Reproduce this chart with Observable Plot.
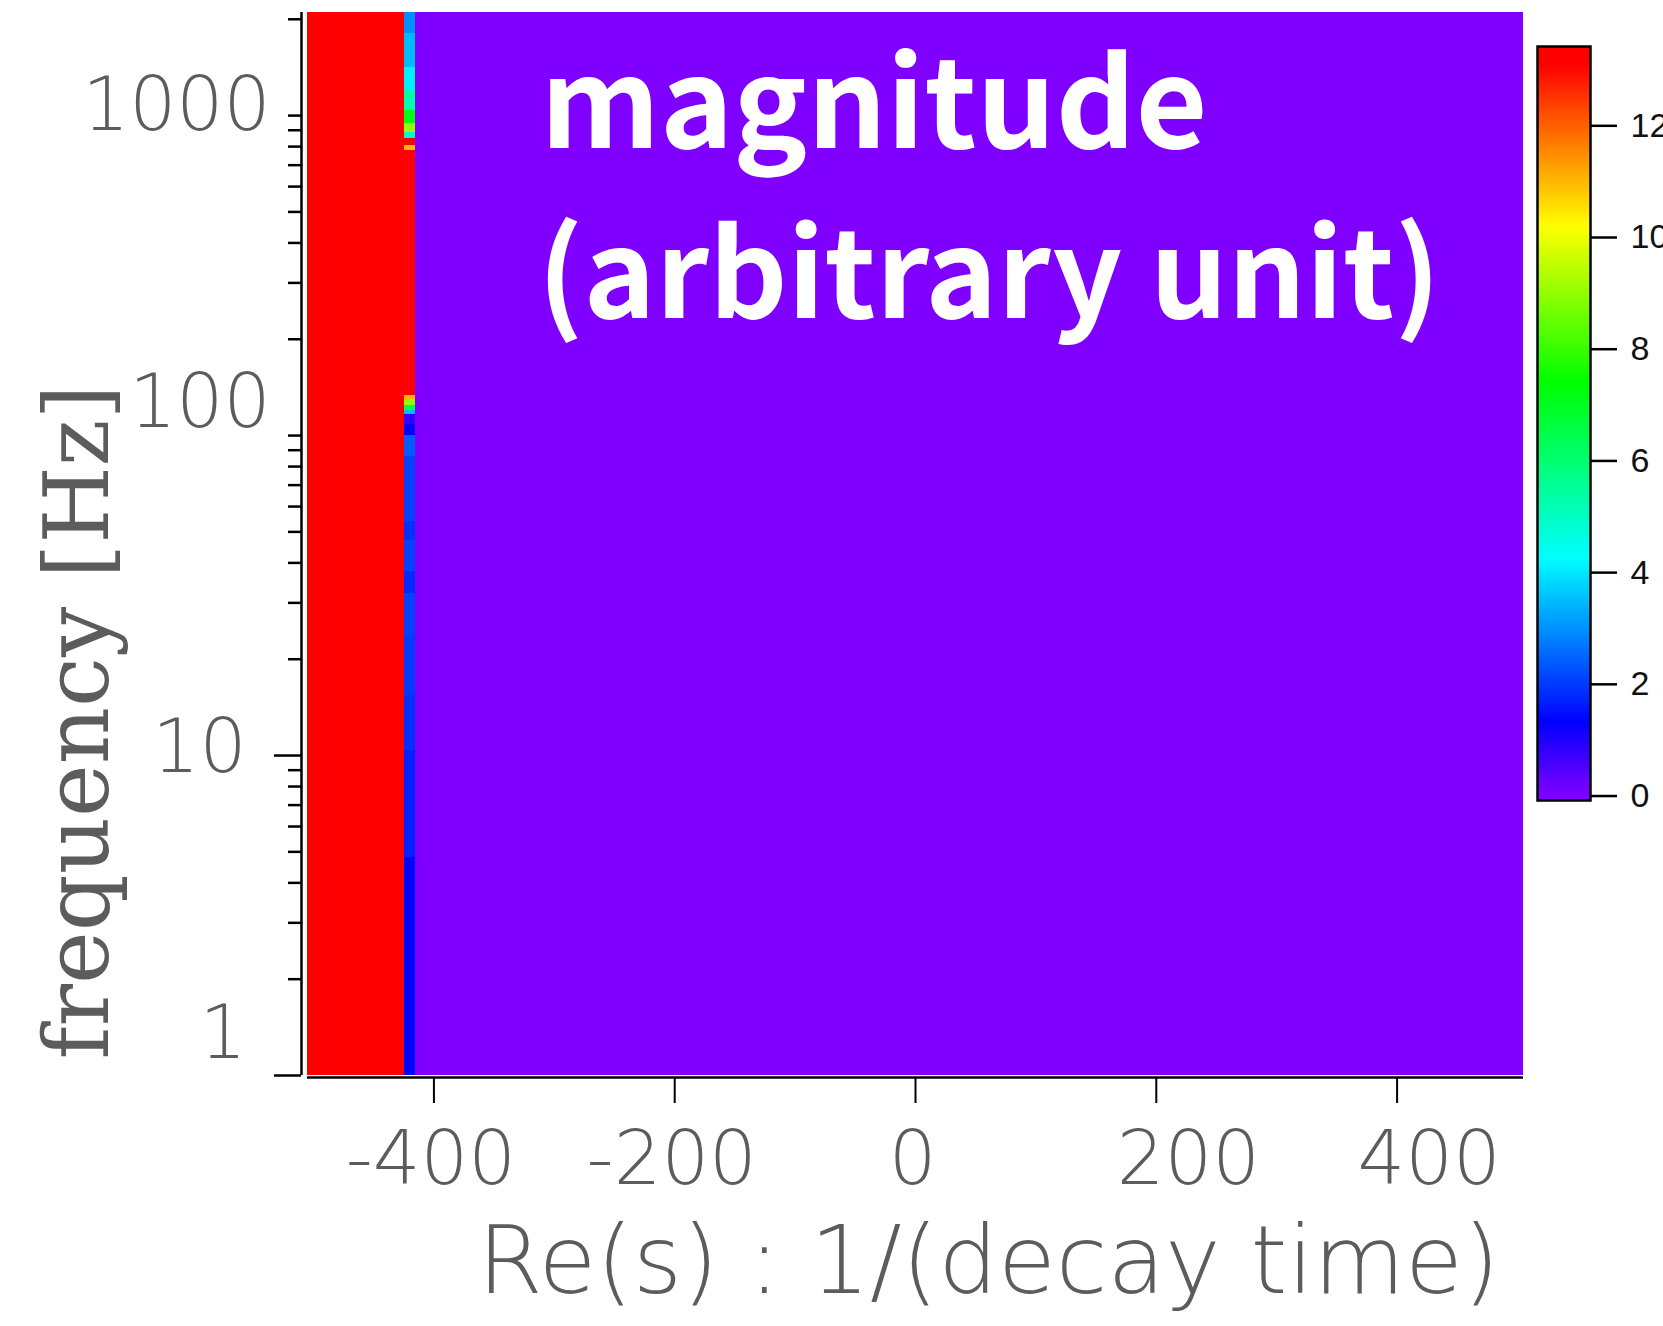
<!DOCTYPE html>
<html><head><meta charset="utf-8">
<script src="https://cdn.jsdelivr.net/npm/d3@7"></script>
<script src="https://cdn.jsdelivr.net/npm/@observablehq/plot@0.6"></script>
<style>
html,body{margin:0;padding:0;background:#fff;}
#wrap{position:relative;width:1663px;height:1326px;overflow:hidden;background:#fff;}
#main{position:absolute;left:0;top:0;}
#bar{position:absolute;left:1500px;top:0;}
</style></head><body><div id="wrap"><div id="main"></div><div id="bar"></div></div>
<script>
// ---------- data ----------
const reDomain = [-505, 505];
const freqDomain = [1, 2100];
// regions along Re(s): saturated block, narrow stripe, empty background
const regionNames = ["saturated", "stripe", "background"];
const regionRe0 = [-505, -424.5, -415.4];
const regionRe1 = [-424.5, -415.4, 505];
const regionValue = [13.4, null, 0];
// stripe profile: frequency band edges (Hz, descending) and magnitude in each band
const stripeFreqEdges = [2100, 1800, 1410, 1200, 1036, 944, 885, 850, 806, 778, 133, 129, 124, 120, 116, 108, 100, 86, 54, 47, 37.5, 32, 23.7, 15.4, 10.4, 4.8, 1];
const stripeValues = [3.0, 3.5, 4.1, 5.3, 7.2, 9.0, 5.0, 13.4, 11.0, 13.4, 11.0, 9.0, 6.5, 3.5, 0.8, 1.3, 2.4, 2.1, 1.9, 2.1, 1.8, 2.1, 2.0, 1.9, 1.7, 1.35];
const xTicks = [-400, -200, 0, 200, 400];
const yLabelTicks = [1, 10, 100, 1000];
const yMinorTicks = [2,3,4,5,6,7,8,9,20,30,40,50,60,70,80,90,200,300,400,500,600,700,800,900,2000];
const colorbarTicks = [0, 2, 4, 6, 8, 10, 12];
const colorbarDomain = [-0.08, 13.42];
const overlayLines = ["magnitude", "(arbitrary unit)"];
const xTitle = "Re(s) : 1/(decay time)";
const yTitle = "frequency [Hz]";

// ---------- build cells ----------
const cells = [];
regionNames.forEach((name, i) => {
  if (name === "stripe") {
    stripeValues.forEach((v, j) => cells.push({x1: regionRe0[i], x2: regionRe1[i], y1: stripeFreqEdges[j + 1], y2: stripeFreqEdges[j], v}));
  } else {
    cells.push({x1: regionRe0[i], x2: regionRe1[i], y1: freqDomain[0], y2: freqDomain[1], v: regionValue[i]});
  }
});

const colorScale = {
  type: "linear",
  domain: [0, 1.33, 4.27, 7.4, 10.2, 13.1],
  range: ["#8000ff", "#0000ff", "#00ffff", "#00ff00", "#ffff00", "#ff0000"],
  interpolate: "rgb",
  clamp: true
};

const gray = "#5c5c5c";
const tickFont = "DejaVu Sans";
// per-label offsets (px) of y tick labels, relative to frame left / tick
const yLabelPos = new Map([[1000, [-37, -9]], [100, [-37, -32]], [10, [-61, -7]], [1, [-61, -41]]]);

const main = Plot.plot({
  width: 1540, height: 1326,
  marginLeft: 307, marginRight: 17, marginTop: 12, marginBottom: 251,
  x: {domain: reDomain, axis: null},
  y: {type: "log", domain: freqDomain, axis: null},
  color: colorScale,
  style: {background: "white", overflow: "visible"},
  marks: [
    Plot.rect(cells, {x1: "x1", x2: "x2", y1: "y1", y2: "y2", fill: "v", shapeRendering: "crispEdges"}),
    // axis lines
    Plot.ruleX([reDomain[0]], {dx: -6, stroke: "black", strokeWidth: 2.5}),
    Plot.ruleY([freqDomain[0]], {dy: 2, stroke: "black", strokeWidth: 2.5}),
    // y ticks
    Plot.axisY(yMinorTicks, {anchor: "left", tickSize: 13, dx: -6, fill: "none", stroke: "black", strokeWidth: 2.5}),
    Plot.axisY([1000, 100], {anchor: "left", tickSize: 13, dx: -6, fill: "none", stroke: "black", strokeWidth: 2.5}),
    Plot.axisY([10, 1], {anchor: "left", tickSize: 27, dx: -6, fill: "none", stroke: "black", strokeWidth: 2.5}),
    // y tick labels
    ...yLabelTicks.map(t => Plot.text([t], {
      y: d => d, frameAnchor: "left", text: d => String(d), textAnchor: "end", lineAnchor: "middle",
      dx: yLabelPos.get(t)[0], dy: yLabelPos.get(t)[1],
      fontSize: 74, fontFamily: tickFont, fontWeight: 300, fill: gray
    })),
    // x ticks
    Plot.axisX(xTicks, {anchor: "bottom", tickSize: 26, dy: 2, fill: "none", stroke: "black", strokeWidth: 2}),
    Plot.text(xTicks.filter(d => d <= 0), {
      x: d => d, frameAnchor: "bottom", text: d => String(d), textAnchor: "middle", lineAnchor: "bottom",
      dy: 108, dx: -3, fontSize: 75, fontFamily: tickFont, fontWeight: 300, fill: gray
    }),
    Plot.text(xTicks.filter(d => d > 0), {
      x: d => d, frameAnchor: "bottom", text: d => String(d), textAnchor: "middle", lineAnchor: "bottom",
      dy: 108, dx: 32, fontSize: 75, fontFamily: tickFont, fontWeight: 300, fill: gray
    }),
    // axis titles
    Plot.text([xTitle], {frameAnchor: "bottom", text: d => d, lineAnchor: "bottom", textAnchor: "middle", dy: 217, dx: 73,
      fontSize: 94, fontFamily: tickFont, fontWeight: 300, fill: gray}),
    Plot.text([yTitle], {frameAnchor: "left", text: d => d, rotate: -90, textAnchor: "middle", lineAnchor: "bottom", dx: -200, dy: 178,
      fontSize: 89, fontFamily: "DejaVu Serif", fill: gray}),
    // overlay text
    Plot.text([overlayLines[0]], {frameAnchor: "top-left", text: d => d, textAnchor: "start", lineAnchor: "bottom",
      dx: 233, dy: 135, fontSize: 124, fontWeight: 700, fontFamily: "Noto Sans CJK JP", fill: "white"}),
    Plot.text([overlayLines[1]], {frameAnchor: "top-left", text: d => d, textAnchor: "start", lineAnchor: "bottom",
      dx: 230, dy: 305, fontSize: 122, fontWeight: 700, fontFamily: "Noto Sans CJK JP", fill: "white"})
  ]
});
document.getElementById("main").appendChild(main);

const bar = Plot.plot({
  width: 163, height: 850,
  marginLeft: 37, marginRight: 73, marginTop: 46, marginBottom: 50,
  x: {domain: [0, 1], axis: null},
  y: {domain: colorbarDomain, axis: null},
  color: colorScale,
  style: {background: "transparent", overflow: "hidden"},
  marks: [
    Plot.raster({fill: (x, y) => y, x1: 0, x2: 1, y1: colorbarDomain[0], y2: colorbarDomain[1], width: 1, height: 600}),
    Plot.frame({stroke: "black", strokeWidth: 2.5}),
    Plot.axisY(colorbarTicks, {anchor: "right", tickSize: 26, tickPadding: 14, tickFormat: d => String(d), fontSize: 34, fontFamily: "Liberation Sans", stroke: "black", strokeWidth: 2.5, fill: "#111", label: null})
  ]
});
document.getElementById("bar").appendChild(bar);
</script>
</body></html>
